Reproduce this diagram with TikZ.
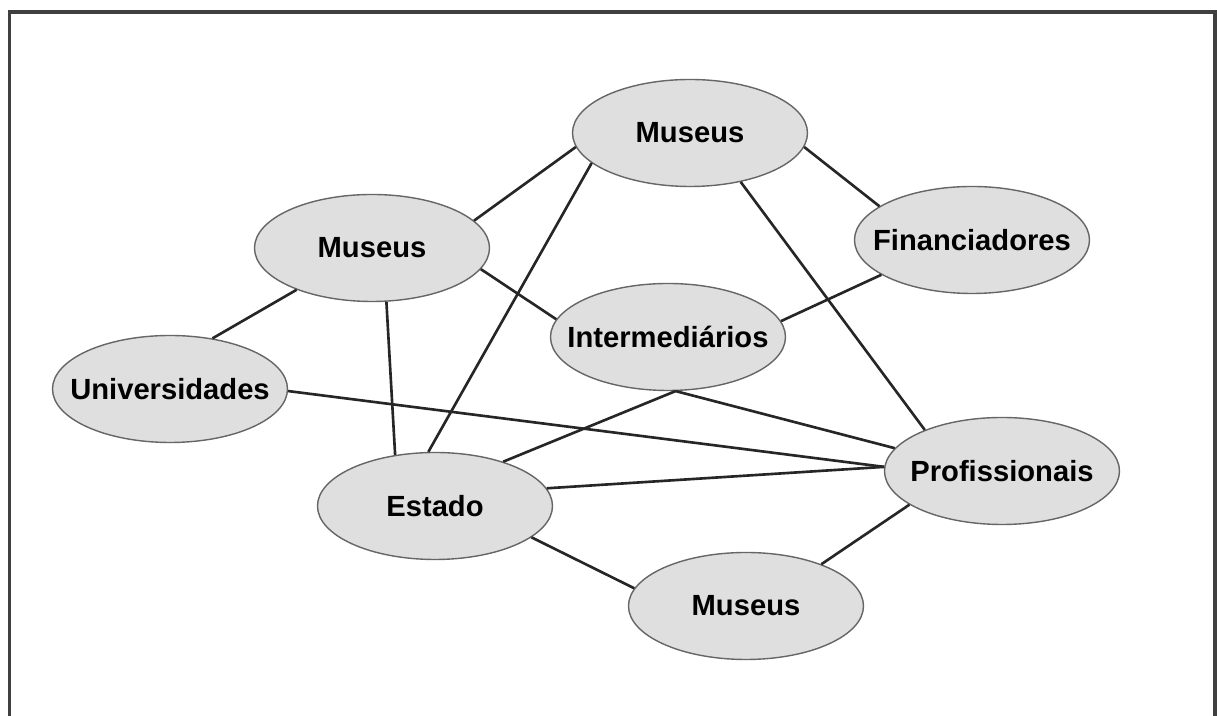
\documentclass[tikz,border=0pt]{standalone}
\usepackage{fontspec}
\setmainfont{Liberation Sans}
\usetikzlibrary{shapes}

\begin{document}
\begin{tikzpicture}[
    actor/.style={ellipse,draw=gray!80!black,line width=0.4pt,fill=gray!25,minimum width=2.35cm,minimum height=1.07cm,inner xsep=-0.3cm,inner ysep=0pt,font=\fontsize{8.3}{10}\selectfont\bfseries},
    link/.style={line width=0.75pt,black!85}]
            \useasboundingbox (0,0) rectangle (12.17,7.16);
            \draw[line width=1pt,black!75] (0.093,0)--(0.093,7.04)--(12.15,7.04)--(12.15,0);
            \node (mtop) at (6.90,5.83) [actor] {Museus};
            \node (mleft) at (3.72,4.68) [actor] {Museus};
            \node (fin) at (9.72,4.76) [actor] {Financiadores};
            \node (inter) at (6.68,3.79) [actor] {Intermediários};
            \node (univ) at (1.70,3.27) [actor] {Universidades};
            \node (prof) at (10.02,2.45) [actor] {Profissionais};
            \node (estado) at (4.35,2.10) [actor] {Estado};
            \node (mbot) at (7.46,1.10) [actor] {Museus};
            \draw[link] (mtop.187)--(mleft.15);
            \draw[link] (mtop.197)--(estado.97);
            \draw[link] (mtop.353)--(fin.160);
            \draw[link] (mtop.316)--(prof.152);
            \draw[link] (mleft.209)--(univ.50);
            \draw[link] (mleft.349)--(inter.171);
            \draw[link] (mleft.285)--(estado.128);
            \draw[link] (fin.201)--(inter.8);
            \draw[link] (inter.278)--(estado.33);
            \draw[link] (inter.278)--(prof.168);
            \draw[link] (univ.359)--(prof.178);
            \draw[link] (estado.9)--(prof.178);
            \draw[link] (estado.342)--(mbot.171);
            \draw[link] (prof.200)--(mbot.29);
\end{tikzpicture}
\end{document}
